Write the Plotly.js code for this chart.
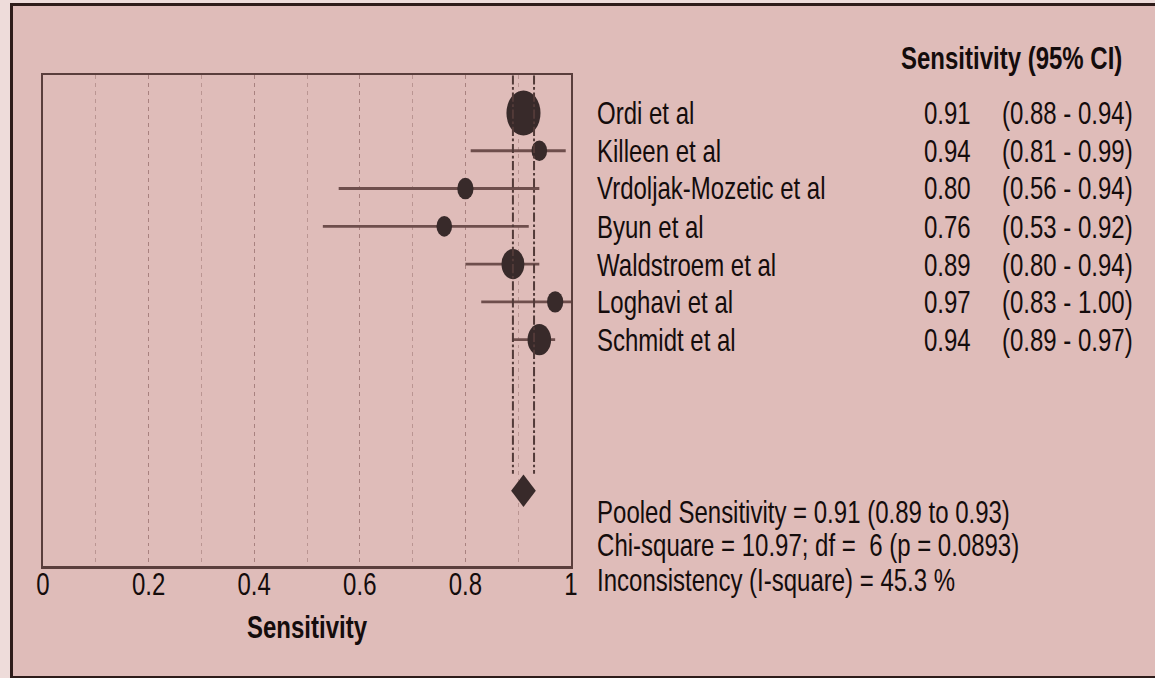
<!DOCTYPE html>
<html>
<head>
<meta charset="utf-8">
<script src="https://cdn.plot.ly/plotly-3.0.1.min.js"></script>
<style>
  html, body { margin:0; padding:0; width:1155px; height:678px; overflow:hidden; background:#eedcda; }
  #frame { position:absolute; left:10px; top:3px; width:1200px; height:670px;
           border-left:3px solid #2e1c1a; border-top:3px solid #2e1c1a; border-bottom:3px solid #2e1c1a;
           background:#dfbcb9; }
  #wrap { position:absolute; left:0; top:0; width:1155px; height:514px;
          transform:scaleY(1.32); transform-origin:0 0; }
  #chart { width:1155px; height:514px; }
</style>
</head>
<body>
<div id="frame"></div>
<div id="wrap"><div id="chart"></div></div>
<script>
// ---------- data ----------
const studies = ['Ordi et al', 'Killeen et al', 'Vrdoljak-Mozetic et al', 'Byun et al',
                 'Waldstroem et al', 'Loghavi et al', 'Schmidt et al'];
const sensitivity = [0.91, 0.94, 0.80, 0.76, 0.89, 0.97, 0.94];
const ciLower     = [0.88, 0.81, 0.56, 0.53, 0.80, 0.83, 0.89];
const ciUpper     = [0.94, 0.99, 0.94, 0.92, 0.94, 1.00, 0.97];
const studyWeight = [35, 7, 8, 7, 18, 8, 19];   // relative weight (%)
const pooledSens  = [0.91];
const pooledLower = [0.89];
const pooledUpper = [0.93];
const chiSquare = 10.97, degFree = 6, pValue = 0.0893, iSquare = 45.3;
const tickLabels = [0, 0.2, 0.4, 0.6, 0.8, 1];

// ---------- layout helpers ----------
const S = 1.32;                 // vertical stretch applied by CSS
const W = 1155, H = 514;
const M = {l:43, r:584, t:57, b:85};
const PW = W - M.l - M.r, PH = H - M.t - M.b;
const pxX = px => (px - M.l) / PW;
const pxY = py => 1 - (py / S - M.t) / PH;

const rows = studies.map((_, i) => i);
const pooledRow = studies.length + 3;
const yRange = [12, -1];

const ink = '#140c0c';
const markColor = '#382a2a';
const ciColor = '#6e4e4c';
const font = 'Liberation Sans, Arial, sans-serif';

const traces = [];

// study estimates with CI whiskers
traces.push({
  type:'scatter', mode:'markers',
  x: sensitivity, y: rows,
  marker:{ symbol:'circle', color:markColor, opacity:1, size: studyWeight.map(w => 11 + 0.66*w),
           line:{width:0} },
  error_x:{ type:'data', symmetric:false,
            array: ciUpper.map((u, i) => u - sensitivity[i]),
            arrayminus: ciLower.map((l, i) => sensitivity[i] - l),
            color: ciColor, thickness: 2.2, width: 0 },
  hoverinfo:'skip', showlegend:false
});

// pooled CI dashed lines
[pooledLower[0], pooledUpper[0]].forEach(v => {
  traces.push({
    type:'scatter', mode:'lines',
    x:[v, v], y:[yRange[1], pooledRow - 0.45],
    line:{color:'#523a38', width:2, dash:'7px,2px,2px,2px'},
    hoverinfo:'skip', showlegend:false
  });
});

// pooled diamond
traces.push({
  type:'scatter', mode:'markers',
  x: pooledSens, y:[pooledRow],
  marker:{symbol:'diamond', size:19, color:markColor, opacity:1, line:{width:0}},
  hoverinfo:'skip', showlegend:false
});

// ---------- annotations ----------
const ann = [];
const txt = (text, x, y, xanchor, yref, extra) => Object.assign({
  text, x, y, xref:'paper', yref: yref || 'paper', xanchor, yanchor:'middle',
  showarrow:false, font:{family:font, size:24, color:ink}
}, extra || {});

ann.push(txt('<b>Sensitivity (95% CI)</b>', pxX(1124), pxY(57), 'right'));
studies.forEach((s, i) => {
  ann.push(txt(s, pxX(595), rows[i], 'left', 'y'));
  ann.push(txt(sensitivity[i].toFixed(2), pxX(973), rows[i], 'right', 'y'));
  ann.push(txt('(' + ciLower[i].toFixed(2) + ' - ' + ciUpper[i].toFixed(2) + ')', pxX(1000), rows[i], 'left', 'y'));
});
ann.push(txt('Pooled Sensitivity = ' + pooledSens[0].toFixed(2) + ' (' + pooledLower[0].toFixed(2) +
             ' to ' + pooledUpper[0].toFixed(2) + ')', pxX(595), pxY(511), 'left'));
ann.push(txt('Chi-square = ' + chiSquare.toFixed(2) + '; df = \u00a0' + degFree + ' (p = ' + pValue + ')',
             pxX(595), pxY(545), 'left'));
ann.push(txt('Inconsistency (I-square) = ' + iSquare + ' %', pxX(595), pxY(580), 'left'));

const layout = {
  width:W, height:H, margin:M,
  paper_bgcolor:'rgba(0,0,0,0)', plot_bgcolor:'rgba(0,0,0,0)',
  font:{family:font, size:24, color:ink},
  showlegend:false,
  xaxis:{
    range:[0, 1], tickvals:tickLabels, ticktext:tickLabels.map(String),
    ticks:'', showline:true, mirror:true, linecolor:'#5a3e3c', linewidth:2,
    ticklabelstandoff:-9,
    showgrid:true, gridcolor:'rgba(150,110,108,0.5)', gridwidth:1, griddash:'dot',
    minor:{dtick:0.1, showgrid:true, gridcolor:'rgba(150,110,108,0.5)', gridwidth:1, griddash:'dot'},
    zeroline:false, tickfont:{family:font, size:24, color:ink},
    title:{text:'<b>Sensitivity</b>', font:{family:font, size:24, color:ink}, standoff:12},
    fixedrange:true
  },
  yaxis:{
    range:yRange, showticklabels:false, ticks:'', showgrid:false, zeroline:false,
    showline:true, mirror:true, linecolor:'#5a3e3c', linewidth:2, fixedrange:true
  },
  annotations: ann
};

Plotly.newPlot('chart', traces, layout, {staticPlot:true, displayModeBar:false});
</script>
</body>
</html>
